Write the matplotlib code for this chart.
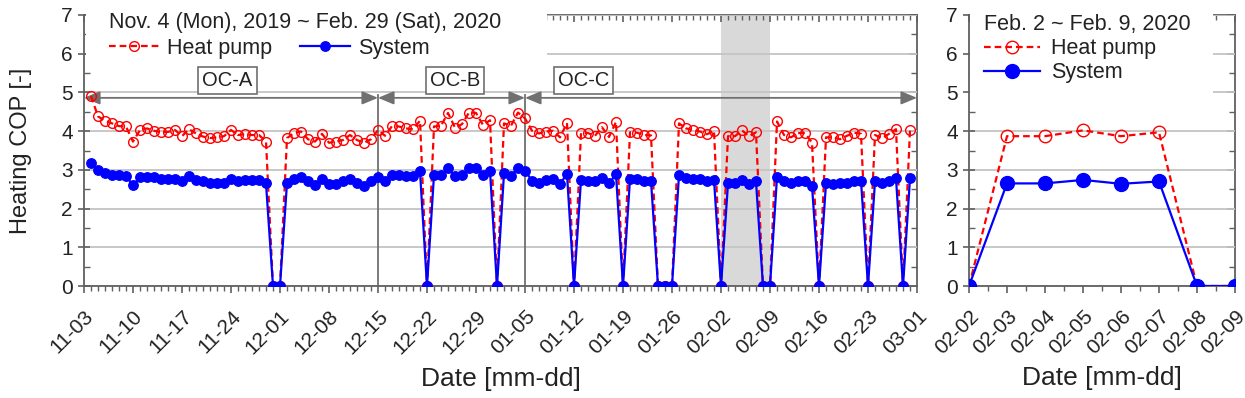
import matplotlib
matplotlib.use("Agg")
import matplotlib.pyplot as plt
import matplotlib.dates as mdates
from matplotlib.patches import Rectangle
import pandas as pd
import numpy as np

plt.rcParams['font.family'] = ['Liberation Sans', 'DejaVu Sans']

# ---------------- data ----------------
start_date = '2019-11-04'
end_date = '2020-02-29'
hp_cop = [4.91, 4.38, 4.27, 4.20, 4.13, 4.12, 3.73, 4.03, 4.07, 4.01,
          3.97, 3.98, 4.03, 3.87, 4.05, 3.94, 3.86, 3.82, 3.84, 3.87,
          4.03, 3.90, 3.92, 3.90, 3.90, 3.73, 0.0, 0.0, 3.82, 3.95,
          3.99, 3.79, 3.73, 3.93, 3.70, 3.73, 3.77, 3.90, 3.77, 3.70,
          3.79, 4.03, 3.88, 4.13, 4.12, 4.07, 4.05, 4.27, 0.0, 4.12,
          4.14, 4.47, 4.09, 4.18, 4.48, 4.47, 4.16, 4.28, 0.0, 4.20,
          4.14, 4.48, 4.33, 4.01, 3.94, 3.99, 4.01, 3.84, 4.21, 0.0,
          3.95, 3.95, 3.88, 4.10, 3.85, 4.24, 0.0, 3.97, 3.96, 3.90,
          3.89, 0.0, 0.0, 0.0, 4.20, 4.07, 4.03, 3.99, 3.92, 4.01,
          0.0, 3.87, 3.87, 4.02, 3.87, 3.97, 0.0, 0.0, 4.25, 3.90,
          3.84, 3.95, 3.95, 3.70, 0.0, 3.84, 3.84, 3.79, 3.88, 3.96,
          3.93, 0.0, 3.90, 3.82, 3.93, 4.05, 0.0, 4.03]
sys_cop = [3.19, 2.99, 2.93, 2.87, 2.87, 2.84, 2.60, 2.81, 2.81, 2.81,
           2.77, 2.77, 2.77, 2.70, 2.83, 2.74, 2.70, 2.65, 2.67, 2.67,
           2.76, 2.72, 2.74, 2.74, 2.74, 2.65, 0.0, 0.0, 2.66, 2.76,
           2.81, 2.70, 2.62, 2.76, 2.64, 2.64, 2.70, 2.76, 2.65, 2.59,
           2.70, 2.81, 2.70, 2.87, 2.88, 2.84, 2.83, 2.96, 0.0, 2.87,
           2.87, 3.04, 2.83, 2.87, 3.06, 3.04, 2.87, 2.98, 0.0, 2.91,
           2.84, 3.06, 2.98, 2.72, 2.67, 2.74, 2.76, 2.64, 2.89, 0.0,
           2.74, 2.72, 2.70, 2.78, 2.65, 2.89, 0.0, 2.76, 2.76, 2.72,
           2.72, 0.0, 0.0, 0.0, 2.87, 2.78, 2.76, 2.76, 2.70, 2.74,
           0.0, 2.65, 2.65, 2.74, 2.64, 2.70, 0.0, 0.0, 2.81, 2.70,
           2.67, 2.70, 2.70, 2.59, 0.0, 2.65, 2.64, 2.65, 2.67, 2.70,
           2.72, 0.0, 2.70, 2.65, 2.70, 2.78, 0.0, 2.78]
period_bounds = ['2019-11-03', '2019-12-15', '2020-01-05', '2020-03-01']
period_labels = ['OC-A', 'OC-B', 'OC-C']
period_label_pos = ['2019-11-23 12:00', '2019-12-26', '2020-01-13 08:00']
zoom_start = '2020-02-02'
zoom_end = '2020-02-09'
left_title = 'Nov. 4 (Mon), 2019 ~ Feb. 29 (Sat), 2020'
right_title = 'Feb. 2 ~ Feb. 9, 2020'

dates = pd.date_range(start_date, end_date, freq='D')
df = pd.DataFrame({'hp': hp_cop, 'sys': sys_cop}, index=dates)
dz = df.loc[zoom_start:zoom_end]

RED = '#ff0000'
BLUE = '#0000ff'
SPINE = '#606060'
GRID = '#c4c4c4'
TXT = '#222222'

W, H = 1245, 398
fig = plt.figure(figsize=(W / 100, H / 100), dpi=100)
axL = fig.add_axes([84 / W, 1 - 286 / H, (917 - 84) / W, (286 - 15) / H])
axR = fig.add_axes([969 / W, 1 - 286 / H, (1235 - 969) / W, (286 - 15) / H])


def style_axis(ax, major_x, minor_x):
    for s in ax.spines.values():
        s.set_color(SPINE)
        s.set_linewidth(1.3)
    ax.spines['top'].set_visible(False)
    ax.spines['right'].set_visible(False)
    ax.set_ylim(0, 7)
    ax.set_yticks(np.arange(0, 8, 1))
    ax.set_yticks(np.arange(0.5, 7, 1), minor=True)
    ax.yaxis.grid(True, which='major', color=GRID, linewidth=1.3)
    ax.set_axisbelow(True)
    ax.set_xticks(major_x)
    ax.set_xticks(minor_x, minor=True)
    ax.xaxis.set_major_formatter(mdates.DateFormatter('%m-%d'))
    ax.tick_params(axis='y', which='major', direction='inout', length=8,
                   width=1.2, color=SPINE, labelsize=15, labelcolor=TXT, pad=4)
    ax.tick_params(axis='y', which='minor', direction='in', length=4,
                   width=1.0, color=SPINE)
    ax.tick_params(axis='x', which='major', direction='out', length=5,
                   width=1.2, color=SPINE, labelsize=15, labelcolor=TXT, pad=10)
    ax.tick_params(axis='x', which='minor', direction='out', length=3.5,
                   width=1.0, color=SPINE)
    for lab in ax.get_xticklabels():
        lab.set_rotation(45)
        lab.set_ha('right')
        lab.set_rotation_mode('anchor')
    # mirrored ticks pointing inward on top and right
    top = ax.secondary_xaxis('top')
    top.set_xticks(major_x)
    top.set_xticks(minor_x, minor=True)
    top.tick_params(which='major', direction='in', length=5, width=1.2, color=SPINE, labeltop=False)
    top.tick_params(which='minor', direction='in', length=3.5, width=1.0, color=SPINE)
    top.spines['top'].set_color(SPINE)
    top.spines['top'].set_linewidth(1.3)
    right = ax.secondary_yaxis('right')
    right.set_yticks(np.arange(0, 8, 1))
    right.set_yticks(np.arange(0.5, 7, 1), minor=True)
    right.tick_params(which='major', direction='in', length=6, width=1.2, color=SPINE, labelright=False)
    right.tick_params(which='minor', direction='in', length=4, width=1.0, color=SPINE)
    right.spines['right'].set_color(SPINE)
    right.spines['right'].set_linewidth(1.3)


def legend_backdrop(ax, x1, y0):
    # opaque white backdrop behind the legend that hides grid & top spine
    ax.add_patch(Rectangle((0.003, y0), x1 - 0.003, 1.04 - y0, transform=ax.transAxes,
                           facecolor='white', edgecolor='none', clip_on=False, zorder=4.5))


# ---------------- left panel ----------------
axL.axvspan(pd.Timestamp(zoom_start), pd.Timestamp(zoom_end), color='#d9d9d9', lw=0, zorder=0)
axL.plot(df.index, df['hp'], color=RED, ls='--', lw=1.6, marker='o', ms=7,
         mfc='none', mec=RED, mew=1.0, label='Heat pump', zorder=3, dashes=(3, 1.8))
axL.plot(df.index, df['sys'], color=BLUE, ls='-', lw=1.6, marker='o', ms=6.8,
         mfc=BLUE, mec=BLUE, label='System', zorder=4)

axL.set_xlim(pd.Timestamp(period_bounds[0]), pd.Timestamp(period_bounds[-1]))
style_axis(axL,
           pd.date_range(period_bounds[0], period_bounds[-1], freq='7D'),
           pd.date_range(period_bounds[0], period_bounds[-1], freq='D'))

# period separators and arrows
y_arrow = 4.86
for b in period_bounds[1:-1]:
    axL.plot([pd.Timestamp(b)] * 2, [0, y_arrow + 0.08], color='#707070', lw=1.3, zorder=2)
for i in range(3):
    x0 = pd.Timestamp(period_bounds[i])
    x1 = pd.Timestamp(period_bounds[i + 1])
    axL.annotate('', xy=(x1, y_arrow), xytext=(x0, y_arrow),
                 arrowprops=dict(arrowstyle='<|-|>,head_length=0.6,head_width=0.25',
                                 color='#707070', lw=1.3,
                                 mutation_scale=16, shrinkA=0, shrinkB=0), zorder=2)
    axL.text(pd.Timestamp(period_label_pos[i]), 5.32, period_labels[i], ha='center', va='center',
             fontsize=14.5, color=TXT,
             bbox=dict(boxstyle='square,pad=0.2', fc='white', ec='#707070', lw=1.2))

legend_backdrop(axL, (547 - 84) / 833, (286 - 66) / 271)
legL = axL.legend(loc='upper left', ncol=2, frameon=False, fontsize=15.5,
                  title=left_title, title_fontsize=15.5, alignment='left',
                  bbox_to_anchor=(0.012, 1.065), handlelength=2.3, columnspacing=1.3,
                  handletextpad=0.4, borderaxespad=0.3, labelspacing=0.2)
legL.set_zorder(6)
for t in legL.get_texts():
    t.set_color(TXT)
legL.get_title().set_color(TXT)
axL.set_xlabel('Date [mm-dd]', fontsize=19, labelpad=6, color=TXT)
axL.set_ylabel('Heating COP [-]', fontsize=17, color=TXT)
axL.yaxis.set_label_coords(-0.063, 0.5)

# ---------------- right panel ----------------
axR.plot(dz.index, dz['hp'], color=RED, ls='--', lw=1.6, marker='o', ms=9,
         mfc='none', mec=RED, mew=1.0, label='Heat pump', zorder=3, dashes=(3, 1.8))
axR.plot(dz.index, dz['sys'], color=BLUE, ls='-', lw=1.6, marker='o', ms=10,
         mfc=BLUE, mec=BLUE, label='System', zorder=4)
axR.set_xlim(pd.Timestamp(zoom_start), pd.Timestamp(zoom_end))
style_axis(axR,
           pd.date_range(zoom_start, zoom_end, freq='D'),
           pd.date_range(zoom_start, zoom_end, freq='12h'))
legend_backdrop(axR, (1213 - 969) / 266, (286 - 98) / 271)
legR = axR.legend(loc='upper left', ncol=1, frameon=False, fontsize=15.5,
                  title=right_title, title_fontsize=15.5, alignment='left',
                  bbox_to_anchor=(0.0, 1.06), handlelength=2.6,
                  handletextpad=0.5, borderaxespad=0.3, labelspacing=0.15)
legR.set_zorder(6)
for t in legR.get_texts():
    t.set_color(TXT)
legR.get_title().set_color(TXT)
axR.set_xlabel('Date [mm-dd]', fontsize=19, labelpad=6, color=TXT)

fig.savefig('out.png', dpi=100)
